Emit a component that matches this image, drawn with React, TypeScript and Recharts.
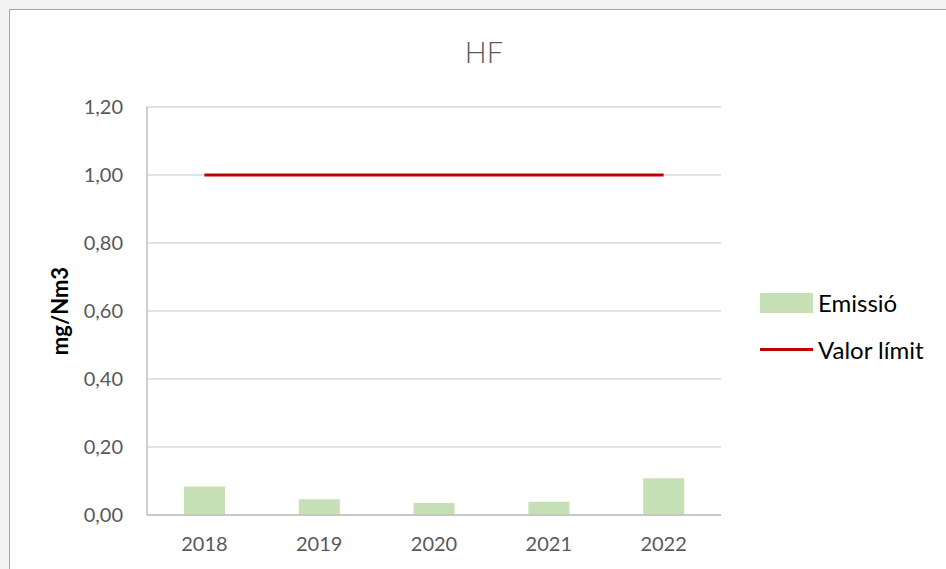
import {
  ComposedChart,
  Bar,
  Line,
  XAxis,
  YAxis,
  CartesianGrid,
  Legend,
  Label,
} from "recharts";

const years = ["2018", "2019", "2020", "2021", "2022"];
const emissio = [0.084, 0.046, 0.035, 0.039, 0.108];
const valorLimit = [1.0, 1.0, 1.0, 1.0, 1.0];
const yTicks = [0, 0.2, 0.4, 0.6, 0.8, 1.0, 1.2];

const data = years.map((year, i) => ({
  year,
  emissio: emissio[i],
  limit: valorLimit[i],
}));

const FONT = "Lato, 'Noto Sans', sans-serif";
const GREEN = "#c5e0b4";
const RED = "#c00000";
const GREY_TEXT = "#595959";

const fmt = (v: number) => v.toFixed(2).replace(".", ",");

// legend is drawn absolutely so it takes no room from the plot
const renderLegend = (props: any) => {
  const { payload } = props;
  return (
    <div
      style={{
        position: "absolute",
        left: 760,
        top: 279,
        width: 186,
        fontFamily: FONT,
        fontSize: 24,
        color: "#000",
      }}
    >
      {payload.map((entry: any) => (
        <div
          key={entry.value}
          style={{ display: "flex", alignItems: "center", height: 47 }}
        >
          {entry.type === "rect" ? (
            <div style={{ width: 53, height: 20, background: entry.color }} />
          ) : (
            <div style={{ width: 53, height: 3, background: entry.color }} />
          )}
          <span style={{ marginLeft: 5, whiteSpace: "nowrap" }}>
            {entry.value}
          </span>
        </div>
      ))}
    </div>
  );
};

const YLabel = ({ viewBox }: any) => {
  const cx = 59;
  const cy = viewBox.y + viewBox.height / 2;
  return (
    <text
      x={cx}
      y={cy}
      transform={`rotate(-90, ${cx}, ${cy})`}
      textAnchor="middle"
      dominantBaseline="central"
      style={{ fontFamily: FONT, fontSize: 22, fontWeight: 700, fill: "#000" }}
    >
      mg/Nm3
    </text>
  );
};

const App = () => {
  return (
    <div
      style={{
        position: "absolute",
        left: 0,
        top: 0,
        width: 946,
        height: 569,
        background: "#f3f3f3",
        overflow: "hidden",
      }}
    >
      <div
        style={{
          position: "absolute",
          left: 9,
          top: 9,
          width: 960,
          height: 600,
          background: "#fff",
          borderTop: "1px solid #a6a6a6",
          borderLeft: "1px solid #a6a6a6",
        }}
      />
      <div
        style={{
          position: "absolute",
          left: 0,
          top: 34,
          width: 968,
          textAlign: "center",
          fontFamily: FONT,
          fontSize: 29,
          fontWeight: 300,
          color: GREY_TEXT,
          lineHeight: "36px",
        }}
      >
        HF
      </div>
      <div style={{ position: "absolute", left: 0, top: 0 }}>
        <ComposedChart
          width={946}
          height={569}
          data={data}
          margin={{ top: 107, right: 225, bottom: 0, left: 0 }}
        >
          <CartesianGrid vertical={false} stroke="#d9d9d9" strokeWidth={1.5} />
          <XAxis
            dataKey="year"
            height={54}
            axisLine={{ stroke: "#bfbfbf", strokeWidth: 1.5 }}
            tickLine={false}
            tickSize={0}
            tickMargin={22}
            tick={{ fill: GREY_TEXT, fontSize: 20, fontFamily: FONT }}
          />
          <YAxis
            width={147}
            domain={[0, 1.2]}
            ticks={yTicks}
            tickFormatter={fmt}
            axisLine={{ stroke: "#bfbfbf", strokeWidth: 1.5 }}
            tickLine={false}
            tickSize={0}
            tickMargin={24}
            tick={{ fill: GREY_TEXT, fontSize: 20, fontFamily: FONT }}
          >
            <Label content={<YLabel />} />
          </YAxis>
          <Legend
            content={renderLegend}
            wrapperStyle={{ left: 0, top: 0, width: 0, height: 0 }}
          />
          <Bar
            dataKey="emissio"
            name="Emissió"
            fill={GREEN}
            barSize={41}
            legendType="rect"
            isAnimationActive={false}
          />
          <Line
            dataKey="limit"
            name="Valor límit"
            type="linear"
            stroke={RED}
            strokeWidth={3}
            dot={false}
            activeDot={false}
            legendType="line"
            isAnimationActive={false}
          />
        </ComposedChart>
      </div>
    </div>
  );
};

export default App;
